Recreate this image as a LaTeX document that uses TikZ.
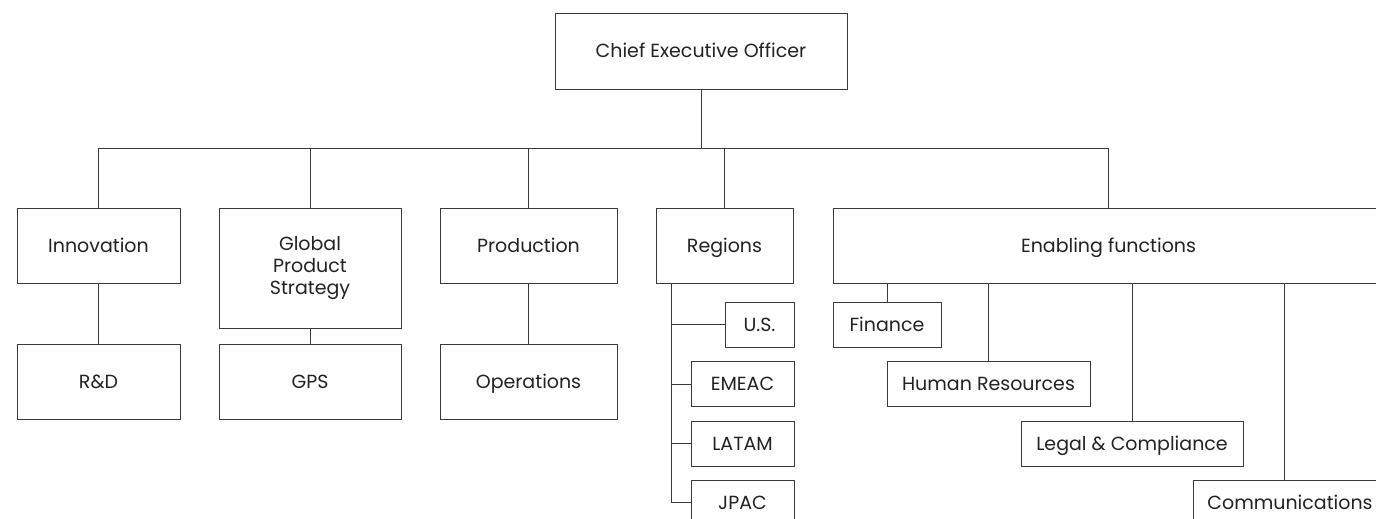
\documentclass[tikz,border=0pt]{standalone}
\usepackage{fontspec}
\setmainfont{Poppins}
\definecolor{ln}{HTML}{3A3A3A}
\definecolor{tx}{HTML}{222222}
\begin{document}
\begin{tikzpicture}[x=1pt,y=-1pt,
  box/.style={draw=ln,line width=1pt,rectangle,inner sep=0pt,align=center,text=tx,font=\fontsize{19}{22}\selectfont,text height=13pt,text depth=0pt},
  mbox/.style={box,text height=,text depth=},
  conn/.style={draw=ln,line width=1pt}]
\useasboundingbox (0,0) rectangle (1376,519);
% top level
\node[box,minimum width=292pt,minimum height=75pt] (ceo) at (701,51.5) {Chief Executive Officer};
\node[box,minimum width=163pt,minimum height=75pt] (inn) at (98.5,245.5) {Innovation};
\node[mbox,minimum width=182pt,minimum height=120pt] (gps) at (310,268) {Global\\Product\\Strategy};
\node[box,minimum width=177pt,minimum height=75pt] (pro) at (528.5,245.5) {Production};
\node[box,minimum width=137pt,minimum height=75pt] (reg) at (724.5,245.5) {Regions};
\node[box,minimum width=551pt,minimum height=75pt] (ena) at (1108.5,245.5) {Enabling functions};
% second level
\node[box,minimum width=163pt,minimum height=75pt] (rd) at (98.5,381.5) {R\&D};
\node[box,minimum width=182pt,minimum height=75pt] (gpsb) at (310,381.5) {GPS};
\node[box,minimum width=177pt,minimum height=75pt] (ops) at (528.5,381.5) {Operations};
% regions
\node[box,minimum width=69pt,minimum height=45pt] (us) at (759.5,324.5) {U.S.};
\node[box,minimum width=103pt,minimum height=45pt] (emeac) at (742.5,384) {EMEAC};
\node[box,minimum width=103pt,minimum height=45pt] (latam) at (742.5,443.5) {LATAM};
\node[box,minimum width=103pt,minimum height=45pt] (jpac) at (742.5,502.5) {JPAC};
% enabling functions
\node[box,minimum width=108pt,minimum height=45pt] (fin) at (887,324.5) {Finance};
\node[box,minimum width=203pt,minimum height=45pt] (hr) at (988.5,383.5) {Human Resources};
\node[box,minimum width=222pt,minimum height=45pt] (leg) at (1132,443.5) {Legal \& Compliance};
\node[box,minimum width=194pt,minimum height=45pt] (com) at (1290,502.5) {Communications};
% connectors
\coordinate (bus) at (701,148);
\draw[conn] (ceo.south) -- (bus);
\draw[conn] (bus) -| (inn.north);
\draw[conn] (bus) -| (gps.north);
\draw[conn] (bus) -| (pro.north);
\draw[conn] (bus) -| (reg.north);
\draw[conn] (bus) -| (ena.north);
\draw[conn] (inn.south) -- (rd.north);
\draw[conn] (gps.south) -- (gpsb.north);
\draw[conn] (pro.south) -- (ops.north);
\coordinate (rtop) at (671,283);
\draw[conn] (rtop) |- (us.west);
\draw[conn] (rtop) |- (emeac.west);
\draw[conn] (rtop) |- (latam.west);
\draw[conn] (rtop) |- (jpac.west);
\draw[conn] (ena.south -| fin.north) -- (fin.north);
\draw[conn] (ena.south -| hr.north) -- (hr.north);
\draw[conn] (ena.south -| leg.north) -- (leg.north);
\coordinate (comtop) at (1284,480);
\draw[conn] (ena.south -| comtop) -- (comtop);
\end{tikzpicture}
\end{document}
